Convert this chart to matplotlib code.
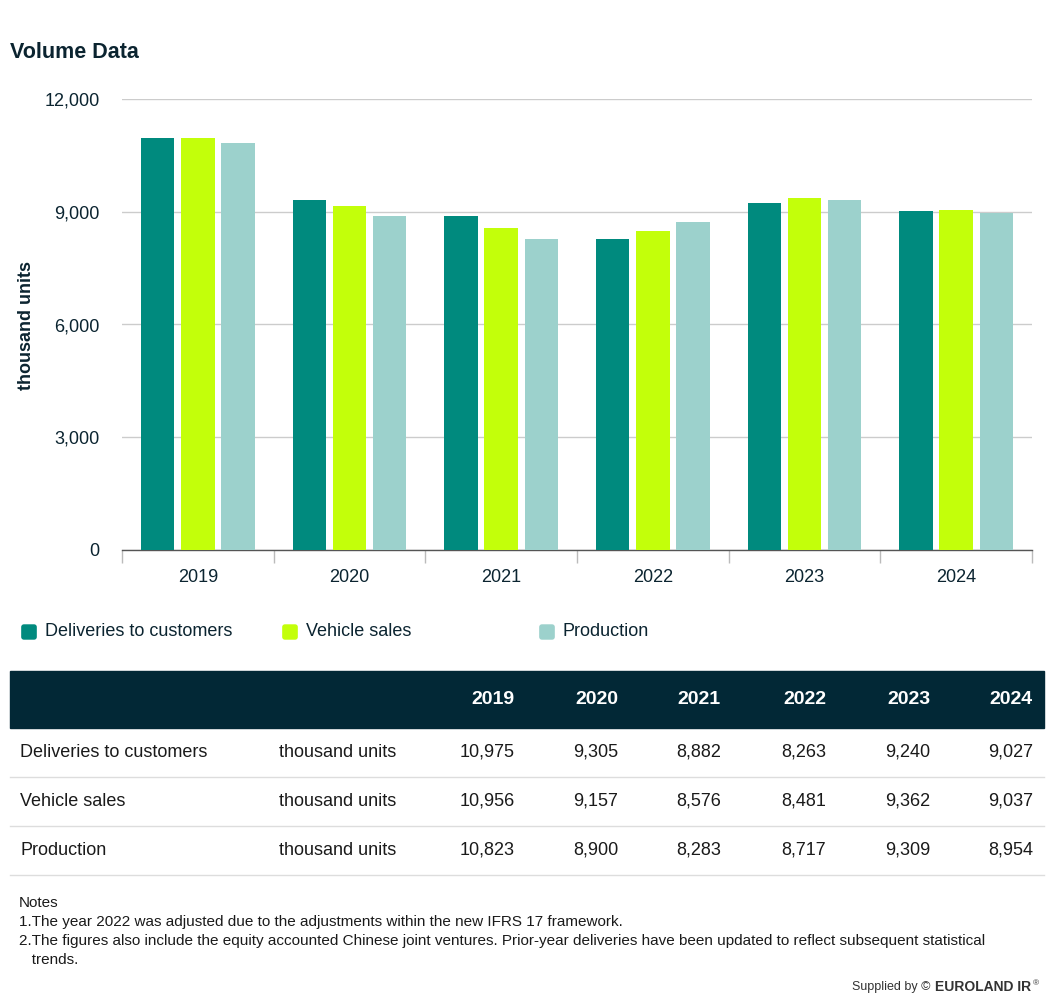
import matplotlib
matplotlib.use("Agg")
import matplotlib.pyplot as plt
from matplotlib.patches import FancyBboxPatch, Rectangle
import numpy as np

years = ["2019", "2020", "2021", "2022", "2023", "2024"]
series_names = ["Deliveries to customers", "Vehicle sales", "Production"]
deliveries = [10975, 9305, 8882, 8263, 9240, 9027]
vehicle_sales = [10956, 9157, 8576, 8481, 9362, 9037]
production = [10823, 8900, 8283, 8717, 9309, 8954]
unit = "thousand units"
y_ticks = [0, 3000, 6000, 9000, 12000]
notes = [
    "Notes",
    "1.The year 2022 was adjusted due to the adjustments within the new IFRS 17 framework.",
    "2.The figures also include the equity accounted Chinese joint ventures. Prior-year deliveries have been updated to reflect subsequent statistical",
    "   trends.",
]

colors = ["#008a7e", "#c3ff0a", "#9cd1cc"]
dark = "#0b2430"
W, H = 1054, 1005

plt.rcParams["font.family"] = ["Liberation Sans", "DejaVu Sans"]


def fx(x):
    return x / W


def fy(y):
    return 1 - y / H


def main():
    fig = plt.figure(figsize=(W / 100, H / 100), dpi=100)

    fig.text(fx(10), fy(53), "Volume Data", fontsize=15.5, fontweight="bold",
             color=dark, va="center", ha="left")

    # bar chart
    ax = fig.add_axes([fx(122), fy(550), fx(1032) - fx(122), fy(99) - fy(550)])
    x = np.arange(len(years))
    all_series = [deliveries, vehicle_sales, production]
    for i, vals in enumerate(all_series):
        ax.bar(x + (i - 1) * 0.264, vals, width=0.22, color=colors[i], zorder=3)
    ax.set_xlim(-0.5, len(years) - 0.5)
    ax.set_ylim(0, 12000)
    ax.set_yticks(y_ticks)
    ax.set_yticklabels(["{:,}".format(v) for v in y_ticks])
    ax.grid(axis="y", color="#cccccc", linewidth=1, zorder=0)
    ax.set_xticks(x)
    ax.set_xticklabels(years)
    ax.set_xticks(np.arange(len(years) + 1) - 0.5, minor=True)
    ax.tick_params(axis="x", which="major", length=0, pad=14, labelsize=13, labelcolor=dark)
    ax.tick_params(axis="x", which="minor", length=9, color="#bbbbbb", width=1)
    ax.tick_params(axis="y", length=0, pad=16, labelsize=13, labelcolor=dark)
    for s in ["top", "right", "left"]:
        ax.spines[s].set_visible(False)
    ax.spines["bottom"].set_color("#555555")
    ax.spines["bottom"].set_linewidth(1)
    fig.text(fx(27), fy(325), unit, rotation=90, fontsize=13, fontweight="bold",
             color=dark, ha="center", va="center")

    # legend
    leg_x = [22, 283, 540]
    for i, name in enumerate(series_names):
        fig.patches.append(FancyBboxPatch((fx(leg_x[i] + 2), fy(637)), fx(10), fy(627) - fy(637),
                                          boxstyle="round,pad=0.002",
                                          transform=fig.transFigure, color=colors[i]))
        fig.text(fx(leg_x[i] + 23), fy(632), name, fontsize=13, color=dark,
                 ha="left", va="center")

    # table
    fig.patches.append(Rectangle((fx(10), fy(728)), fx(1044) - fx(10), fy(671) - fy(728),
                                 transform=fig.transFigure, color="#022836"))
    col_right = [515, 618, 721, 826, 930, 1033]
    for j, yr in enumerate(years):
        fig.text(fx(col_right[j]), fy(699), yr, fontsize=14, fontweight="bold",
                 color="white", ha="right", va="center")
    row_y = [752, 801, 850]
    for r, vals in enumerate(all_series):
        fig.text(fx(20), fy(row_y[r]), series_names[r], fontsize=13, color="#1a1a1a",
                 ha="left", va="center")
        fig.text(fx(279), fy(row_y[r]), unit, fontsize=13, color="#1a1a1a",
                 ha="left", va="center")
        for j, v in enumerate(vals):
            fig.text(fx(col_right[j]), fy(row_y[r]), "{:,}".format(v), fontsize=13,
                     color="#1a1a1a", ha="right", va="center")
        line_y = fy(row_y[r] + 25)
        fig.add_artist(plt.Line2D([fx(10), fx(1044)], [line_y, line_y],
                                  transform=fig.transFigure, color="#dddddd", linewidth=1))

    # notes
    for k, line in enumerate(notes):
        fig.text(fx(19), fy(903 + k * 19), line, fontsize=11, color="#1a1a1a",
                 ha="left", va="center")

    # footer
    fig.text(fx(931), fy(987), "Supplied by ©", fontsize=9, color="#333333",
             ha="right", va="center")
    fig.text(fx(935), fy(987), "EUROLAND IR", fontsize=10, fontweight="bold",
             color="#333333", ha="left", va="center")
    fig.text(fx(1033), fy(984), "®", fontsize=6, color="#333333",
             ha="left", va="center")

    fig.savefig("out.png", dpi=100)


if __name__ == "__main__":
    main()
